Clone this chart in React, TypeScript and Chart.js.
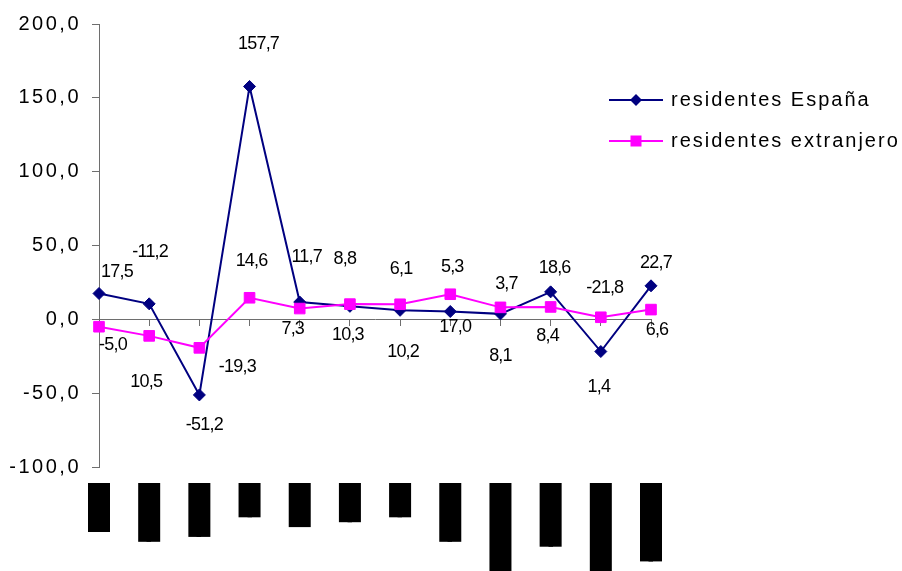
import React, { useEffect, useRef } from 'react';
import { Chart, registerables } from 'chart.js';

Chart.register(...registerables);

// Category labels (unreadable in the source: rendered as solid black blocks)
const CATEGORIES = [
  '██████████',
  '████████████',
  '███████████',
  '███████',
  '█████████',
  '████████',
  '███████',
  '████████████',
  '████████████████████',
  '█████████████',
  '████████████████████',
  '████████████████',
];

const SERIES_NAMES = ['residentes España', 'residentes extranjero'];
const ESPANA = [17.5, 10.5, -51.2, 157.7, 11.7, 8.8, 6.1, 5.3, 3.7, 18.6, -21.8, 22.7];
const EXTRANJERO = [-5.0, -11.2, -19.3, 14.6, 7.3, 10.3, 10.2, 17.0, 8.1, 8.4, 1.4, 6.6];

const Y_MIN = -100;
const Y_MAX = 200;
const Y_STEP = 50;

// Label placement relative to each point (style, in px)
const ESPANA_LABEL_OFFSETS = [
  [18, -21], [-3, 78], [5, 30], [9, -42], [7, -45], [-5, -47],
  [1, -41], [2, -44], [6, -30], [4, -24], [4, -63], [5, -23],
];
const EXTRANJERO_LABEL_OFFSETS = [
  [14, 18], [1, -84], [38, 19], [2, -37], [-7, 20], [-2, 31],
  [3, 48], [5, 33], [0, 49], [-3, 29], [-2, 70], [6, 20],
];

const NAVY = '#000080';
const MAGENTA = '#FF00FF';
const AXIS = '#6e6e6e';
const FONT = "'Liberation Sans', Arial, sans-serif";

const fmt = (v: number) => v.toFixed(1).replace('.', ',');

const spacingPlugin = {
  id: 'spacing',
  beforeUpdate(chart: any) {
    chart.ctx.letterSpacing = '2.5px';
  },
  beforeDraw(chart: any) {
    chart.ctx.letterSpacing = '2.5px';
  },
};

const labelsPlugin = {
  id: 'pointLabels',
  afterDatasetsDraw(chart: any) {
    const ctx = chart.ctx;
    const offsets = [ESPANA_LABEL_OFFSETS, EXTRANJERO_LABEL_OFFSETS];
    ctx.save();
    ctx.letterSpacing = '-0.8px';
    ctx.font = `18px ${FONT}`;
    ctx.fillStyle = '#000';
    ctx.textAlign = 'center';
    ctx.textBaseline = 'middle';
    chart.data.datasets.forEach((ds: any, di: number) => {
      const meta = chart.getDatasetMeta(di);
      meta.data.forEach((pt: any, i: number) => {
        const [dx, dy] = offsets[di][i];
        ctx.fillText(fmt(ds.data[i]), pt.x + dx, pt.y + dy);
      });
    });
    ctx.restore();
  },
};

const legendPlugin = {
  id: 'customLegend',
  afterDraw(chart: any) {
    const ctx = chart.ctx;
    const items = [
      { name: SERIES_NAMES[0], color: NAVY, shape: 'diamond', y: 100 },
      { name: SERIES_NAMES[1], color: MAGENTA, shape: 'square', y: 141 },
    ];
    ctx.save();
    items.forEach((it) => {
      ctx.strokeStyle = it.color;
      ctx.fillStyle = it.color;
      ctx.lineWidth = 2;
      ctx.beginPath();
      ctx.moveTo(609, it.y);
      ctx.lineTo(663, it.y);
      ctx.stroke();
      const cx = 636;
      ctx.beginPath();
      if (it.shape === 'diamond') {
        ctx.moveTo(cx - 6, it.y);
        ctx.lineTo(cx, it.y - 6);
        ctx.lineTo(cx + 6, it.y);
        ctx.lineTo(cx, it.y + 6);
        ctx.closePath();
      } else {
        ctx.rect(cx - 5.5, it.y - 5.5, 11, 11);
      }
      ctx.fill();
      ctx.letterSpacing = '2px';
      ctx.font = `20px ${FONT}`;
      ctx.fillStyle = '#000';
      ctx.textAlign = 'left';
      ctx.textBaseline = 'middle';
      ctx.fillText(it.name, 671, it.y);
    });
    ctx.restore();
  },
};

export default function App() {
  const ref = useRef<HTMLCanvasElement | null>(null);

  useEffect(() => {
    if (!ref.current) return;
    const chart = new Chart(ref.current, {
      type: 'line',
      data: {
        labels: CATEGORIES,
        datasets: [
          {
            label: SERIES_NAMES[0],
            data: ESPANA,
            borderColor: NAVY,
            backgroundColor: NAVY,
            borderWidth: 2,
            pointStyle: 'rectRot',
            pointRadius: 6,
            pointBorderWidth: 1,
            pointBackgroundColor: NAVY,
            pointBorderColor: NAVY,
            tension: 0,
            order: 1,
          },
          {
            label: SERIES_NAMES[1],
            data: EXTRANJERO,
            borderColor: MAGENTA,
            backgroundColor: MAGENTA,
            borderWidth: 2,
            pointStyle: 'rect',
            pointRadius: 7.5,
            pointBorderWidth: 1,
            pointBackgroundColor: MAGENTA,
            pointBorderColor: MAGENTA,
            tension: 0,
            order: 0,
          },
        ],
      },
      options: {
        responsive: false,
        maintainAspectRatio: false,
        devicePixelRatio: 1,
        animation: false,
        layout: { padding: { top: 24, right: 251, bottom: 0, left: 0 } },
        plugins: { legend: { display: false }, tooltip: { enabled: false } },
        scales: {
          x: {
            type: 'category',
            position: { y: 0 } as any,
            offset: false,
            grid: { drawOnChartArea: false, drawTicks: true, tickLength: 6, color: AXIS },
            border: { display: true, color: AXIS, width: 1 },
            ticks: { display: false },
          },
          x2: {
            type: 'category',
            position: 'bottom',
            labels: CATEGORIES,
            offset: false,
            grid: { display: false, drawTicks: false },
            border: { display: false },
            ticks: {
              autoSkip: false,
              minRotation: 90,
              maxRotation: 90,
              padding: 16,
              labelOffset: -11,
              color: '#000',
              font: { family: "'Liberation Mono', monospace", size: 4, lineHeight: 5.5 },
              showLabelBackdrop: true,
              backdropColor: '#000',
              backdropPadding: 0,
            } as any,
            afterFit: (s: any) => {
              s.height = 104;
            },
          } as any,
          y: {
            type: 'linear',
            position: 'left',
            min: Y_MIN,
            max: Y_MAX,
            grid: { drawOnChartArea: false, drawTicks: true, tickLength: 7, color: AXIS },
            border: { display: true, color: AXIS, width: 1 },
            ticks: {
              stepSize: Y_STEP,
              color: '#000',
              padding: 11,
              font: { family: FONT, size: 20 },
              callback: (v: any) => fmt(Number(v)),
            },
            afterFit: (s: any) => {
              s.width = 99;
            },
          },
        },
      },
      plugins: [spacingPlugin, labelsPlugin, legendPlugin],
    });
    return () => chart.destroy();
  }, []);

  return (
    <div style={{ position: 'fixed', left: 0, top: 0, width: 902, height: 571, background: '#fff' }}>
      <canvas ref={ref} width={902} height={571} style={{ display: 'block' }} />
    </div>
  );
}
